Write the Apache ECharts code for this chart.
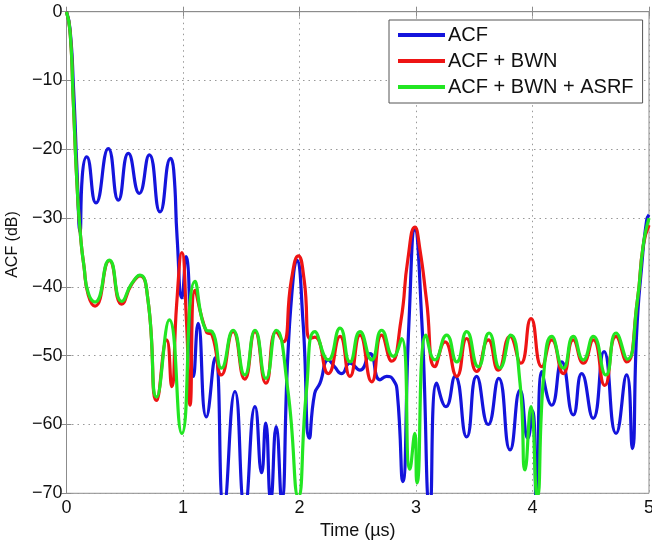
<!DOCTYPE html>
<html>
<head>
<meta charset="utf-8">
<script src="https://cdn.jsdelivr.net/npm/echarts@6/dist/echarts.min.js"></script>
<style>
html,body{margin:0;padding:0;background:#fff;}
#c{width:652px;height:541px;}
</style>
</head>
<body>
<div id="c"></div>
<script>
// ---- data (time in µs, ACF in dB) ----
const seriesNames = ['ACF', 'ACF + BWN', 'ACF + BWN + ASRF'];
const xTicks = [0, 1, 2, 3, 4, 5];
const yTicks = [-70, -60, -50, -40, -30, -20, -10, 0];

const acfT = [0,0.03,0.06,0.09,0.116,0.135,0.173,0.253,0.359,0.445,0.531,0.625,0.711,0.803,0.894,0.92,0.95,0.99,1.026,1.09,1.13,1.2,1.275,1.35,1.446,1.53,1.618,1.675,1.71,1.753,1.80,1.847,1.90,1.95,1.976,2.03,2.085,2.13,2.176,2.247,2.30,2.362,2.433,2.519,2.605,2.69,2.748,2.805,2.84,2.886,2.94,2.99,3.05,3.12,3.178,3.257,3.335,3.435,3.52,3.62,3.71,3.807,3.893,3.96,4.0,4.035,4.08,4.165,4.25,4.35,4.422,4.52,4.614,4.717,4.808,4.857,4.894,4.937,4.98,5.0];
const acfDb = [0,-2.5,-11,-23,-32,-24,-21.1,-27.8,-19.9,-27.4,-20.6,-26.4,-20.8,-29.1,-21.3,-23,-33,-41.6,-35.6,-53,-45.3,-58.9,-50.3,-72,-55.2,-72,-57.4,-67,-59.8,-71,-60.3,-71,-50,-38,-36.1,-45,-62,-55.5,-54,-50.6,-51.6,-52.6,-51.1,-52.1,-49.7,-53.5,-53,-53.5,-55.5,-68.3,-45,-31.7,-45,-72,-54,-57.4,-53,-61.8,-53,-60,-53.3,-63.7,-55,-62,-58,-72,-52.3,-57.2,-50.9,-58.6,-52.6,-59.1,-49.4,-61.3,-52.8,-63.5,-46.7,-37,-30.3,-29.5];

const bwnT = [0,0.03,0.058,0.09,0.12,0.15,0.187,0.245,0.368,0.474,0.56,0.63,0.70,0.774,0.86,0.903,0.946,0.99,1.03,1.06,1.103,1.2,1.25,1.33,1.43,1.53,1.618,1.712,1.80,1.86,1.93,1.99,2.04,2.09,2.133,2.247,2.348,2.433,2.519,2.62,2.705,2.79,2.87,2.93,2.99,3.034,3.09,3.163,3.249,3.35,3.435,3.52,3.62,3.707,3.807,3.9,3.987,4.08,4.165,4.265,4.35,4.436,4.522,4.62,4.717,4.808,4.9,4.95,5.0];
const bwnDb = [0,-2.8,-12.9,-25,-32.5,-37,-41.2,-42.8,-36.2,-42.5,-39.6,-38.4,-42,-56.5,-47.7,-54.5,-42.4,-35,-45,-57.2,-40.5,-46.5,-47,-52.8,-46.5,-53.4,-46.5,-54,-46.5,-48,-39,-35.5,-39,-47.5,-47.3,-52.6,-47.2,-53,-47,-53.8,-47,-50.8,-45,-36,-31.3,-34.6,-41.9,-51.6,-48,-53,-47.5,-52.3,-47.7,-52.1,-47.2,-51.1,-44.6,-51.6,-47.7,-52.6,-47.7,-51.1,-47.7,-54.3,-47.2,-50.9,-42,-34,-31];

const asrfT = [0,0.03,0.058,0.09,0.12,0.15,0.187,0.245,0.368,0.474,0.56,0.63,0.70,0.774,0.883,0.99,1.103,1.2,1.25,1.33,1.43,1.53,1.618,1.712,1.80,1.90,1.99,2.06,2.133,2.247,2.348,2.433,2.519,2.62,2.705,2.805,2.877,2.948,2.99,3.008,3.086,3.163,3.263,3.35,3.435,3.535,3.627,3.72,3.813,3.893,3.936,3.987,4.04,4.1,4.165,4.265,4.35,4.436,4.522,4.63,4.717,4.814,4.9,4.95,5.0];
const asrfDb = [0,-2.8,-12.9,-25,-32.5,-37,-40.9,-42.2,-36.1,-42.1,-39.5,-38.3,-42,-56,-44.8,-61.3,-39.2,-46.3,-46.5,-51.8,-46.3,-52.8,-46.3,-53.3,-46.3,-55,-70.5,-55,-46.5,-50.6,-46,-50.9,-46.5,-50.6,-46.3,-50.1,-47.5,-66.5,-61.3,-68.5,-47,-50.6,-47,-50.9,-46.5,-51.6,-46.7,-51.8,-47,-54,-66.6,-57.4,-70.5,-52,-47.2,-51.8,-47.2,-50.6,-47.2,-52.8,-46.7,-50.5,-42,-34,-30];

const colors = ['#1414dc', '#ee1414', '#22e622'];
const zip = (t, v) => t.map((x, i) => [x, v[i]]);
const seriesData = [zip(acfT, acfDb), zip(bwnT, bwnDb), zip(asrfT, asrfDb)];

const font = '"Liberation Sans", Arial, sans-serif';
const fmtMinus = v => String(v).replace('-', '\u2212');

const chart = echarts.init(document.getElementById('c'), null, {renderer: 'canvas'});
chart.setOption({
  animation: false,
  backgroundColor: '#fff',
  grid: {left: 66.5, top: 11.7, right: 3, bottom: 47.7, outerBoundsMode: 'none', containLabel: false,
         show: true, borderColor: '#8c8c8c', borderWidth: 1, backgroundColor: 'transparent'},
  legend: {
    orient: 'vertical', left: 389, top: 20,
    data: seriesNames.map(n => ({name: n, icon: 'rect'})),
    itemWidth: 47, itemHeight: 4, itemGap: 6,
    padding: [5, 9, 6, 9],
    backgroundColor: '#fff', borderColor: '#555', borderWidth: 1,
    textStyle: {fontFamily: font, fontSize: 20, color: '#111', padding: [0, 0, 0, -2]}
  },
  xAxis: [{
    type: 'value', min: xTicks[0], max: xTicks[xTicks.length - 1], interval: 1,
    name: 'Time (\u00b5s)', nameLocation: 'middle', nameGap: 26,
    nameTextStyle: {fontFamily: font, fontSize: 18, color: '#111', verticalAlign: 'top'},
    axisLine: {show: true, lineStyle: {color: '#8c8c8c'}},
    axisTick: {show: true, inside: true, length: 5, lineStyle: {color: '#8c8c8c'}},
    axisLabel: {fontFamily: font, fontSize: 18, color: '#111', margin: 6},
    splitLine: {show: true, lineStyle: {type: [1.5, 4], color: '#999', width: 1}}
  }, {
    type: 'value', position: 'top', min: xTicks[0], max: xTicks[xTicks.length - 1], interval: 1,
    axisLine: {show: false}, axisLabel: {show: false}, splitLine: {show: false},
    axisTick: {show: true, inside: true, length: 5, lineStyle: {color: '#8c8c8c'}}
  }],
  yAxis: [{
    type: 'value', min: yTicks[0], max: yTicks[yTicks.length - 1], interval: 10,
    name: 'ACF (dB)', nameLocation: 'middle', nameGap: 40, nameRotate: 90,
    nameTextStyle: {fontFamily: font, fontSize: 16, color: '#111', padding: [0, 0, 0, 16]},
    axisLine: {show: true, lineStyle: {color: '#8c8c8c'}},
    axisTick: {show: true, inside: true, length: 5, lineStyle: {color: '#8c8c8c'}},
    axisLabel: {fontFamily: font, fontSize: 18, color: '#111', margin: 4, formatter: fmtMinus},
    splitLine: {show: true, lineStyle: {type: [1.5, 4], color: '#999', width: 1}}
  }, {
    type: 'value', position: 'right', min: yTicks[0], max: yTicks[yTicks.length - 1], interval: 10,
    axisLine: {show: false}, axisLabel: {show: false}, splitLine: {show: false},
    axisTick: {show: true, inside: true, length: 5, lineStyle: {color: '#8c8c8c'}}
  }],
  series: seriesNames.map((n, i) => ({
    name: n, type: 'line', data: seriesData[i],
    xAxisIndex: 0, yAxisIndex: 0,
    showSymbol: false, smooth: 0.55, clip: true,
    lineStyle: {color: colors[i], width: 3.2},
    itemStyle: {color: colors[i]},
    z: 2 + i
  }))
});
</script>
</body>
</html>
